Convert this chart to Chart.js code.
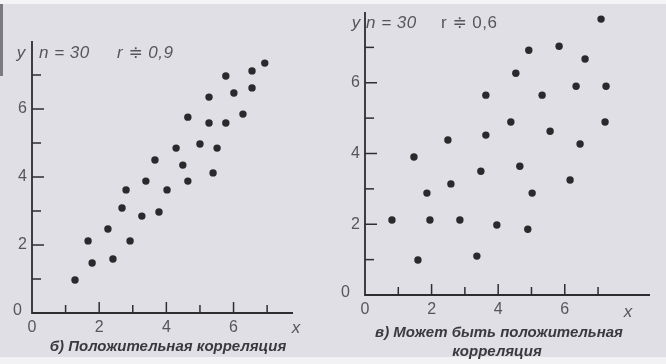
<!DOCTYPE html>
<html>
<head>
<meta charset="utf-8">
<script src="https://cdn.jsdelivr.net/npm/chart.js@4/dist/chart.umd.min.js"></script>
<style>
  html, body { margin: 0; padding: 0; }
  body { width: 666px; height: 364px; background: #dfdfe5; position: relative; overflow: hidden; }
  #topstrip { position: absolute; left: 0; top: 0; width: 666px; height: 4px; background: #f4f4f6; }
  #botstrip { position: absolute; left: 0; top: 357px; width: 666px; height: 7px; background: #f2f2f4; }
  #edge { position: absolute; left: 0; top: 4px; width: 3px; height: 72px; background: #7a7a80; }
  canvas { position: absolute; top: 0; }
  #c1 { left: 0; }
  #c2 { left: 333px; }
</style>
</head>
<body>
<div id="topstrip"></div>
<div id="botstrip"></div>
<div id="edge"></div>
<canvas id="c1" width="333" height="364"></canvas>
<canvas id="c2" width="333" height="364"></canvas>
<script>
// ---- Data ----
const leftX  = [6.93, 6.55, 5.77, 6.55, 6.01, 5.27, 6.28, 4.64, 5.27, 5.77, 5.00, 4.29, 5.51, 3.66, 4.49, 5.39, 3.39, 4.64, 2.80, 4.02, 2.68, 3.27, 3.78, 2.26, 1.67, 2.92, 1.79, 2.41, 1.28];
const leftY  = [7.35, 7.12, 6.97, 6.62, 6.47, 6.35, 5.85, 5.76, 5.59, 5.59, 4.97, 4.85, 4.85, 4.50, 4.35, 4.12, 3.88, 3.88, 3.62, 3.62, 3.09, 2.85, 2.97, 2.47, 2.12, 2.12, 1.47, 1.59, 0.97];
const rightX = [7.09, 4.92, 5.83, 6.61, 4.53, 6.34, 7.24, 3.63, 5.32, 4.38, 7.21, 5.56, 2.49, 3.63, 6.46, 1.47, 3.48, 4.65, 6.16, 2.58, 1.86, 5.02, 0.81, 1.95, 2.85, 3.96, 4.89, 3.36, 1.59];
const rightY = [7.80, 6.92, 7.03, 6.67, 6.27, 5.90, 5.90, 5.65, 5.65, 4.89, 4.89, 4.63, 4.38, 4.52, 4.27, 3.90, 3.50, 3.64, 3.25, 3.14, 2.88, 2.88, 2.12, 2.12, 2.12, 1.98, 1.86, 1.10, 0.99];
const xTickLabels = ['0', '2', '4', '6'];
const yTickLabels = ['0', '2', '4', '6'];
const tickValues = [1, 2, 3, 4, 5, 6, 7];
const leftHeader  = { n: 'n = 30', r: 'r ≑ 0,9' };
const rightHeader = { n: 'n = 30', r: 'r ≑ 0,6' };
const leftCaption  = ['б) Положительная корреляция'];
const rightCaption = ['в) Может быть положительная', 'корреляция'];

function toPoints(xs, ys) { return xs.map((x, i) => ({ x: x, y: ys[i] })); }

const INK = '#2e2e30';
const LABEL = '#56565a';

function axesPlugin(cfg) {
  return {
    id: 'manualAxes',
    beforeDatasetsDraw(chart) {
      const ctx = chart.ctx;
      const xs = chart.scales.x, ys = chart.scales.y;
      const ca = chart.chartArea;
      const x0 = xs.getPixelForValue(0), y0 = ys.getPixelForValue(0);
      ctx.save();
      ctx.strokeStyle = INK;
      ctx.lineWidth = 1.8;
      ctx.beginPath();
      ctx.moveTo(x0, ca.top); ctx.lineTo(x0, y0);
      ctx.lineTo(ca.right, y0);
      ctx.stroke();
      ctx.lineWidth = 1.5;
      tickValues.forEach(v => {
        const big = v % 2 === 0;
        const px = xs.getPixelForValue(v);
        ctx.beginPath(); ctx.moveTo(px, y0); ctx.lineTo(px, y0 - (big ? 11 : 8)); ctx.stroke();
        const py = ys.getPixelForValue(v);
        ctx.beginPath(); ctx.moveTo(x0, py); ctx.lineTo(x0 + (big ? 12 : 9), py); ctx.stroke();
      });
      // tick labels
      ctx.fillStyle = LABEL;
      ctx.font = '16px "Liberation Sans", Arial, sans-serif';
      ctx.textBaseline = 'middle';
      xTickLabels.forEach(t => {
        ctx.textAlign = 'center';
        ctx.fillText(t, xs.getPixelForValue(Number(t)), y0 + cfg.xLabelDy);
      });
      yTickLabels.forEach(t => {
        const v = Number(t);
        ctx.textAlign = 'right';
        if (v === 0) ctx.fillText(t, x0 - cfg.zeroDx, y0 - 2);
        else ctx.fillText(t, x0 - 5, ys.getPixelForValue(v));
      });
      // axis names
      ctx.font = 'italic 17px "Liberation Sans", Arial, sans-serif';
      ctx.textAlign = 'center';
      ctx.fillText('x', cfg.xName[0], cfg.xName[1]);
      ctx.fillText('y', cfg.yName[0], cfg.yName[1]);
      // header
      ctx.textAlign = 'left';
      if ('letterSpacing' in ctx) ctx.letterSpacing = '0.5px';
      ctx.font = (cfg.nItalic ? 'italic ' : '') + '17px "Liberation Sans", "DejaVu Sans", sans-serif';
      ctx.fillText(cfg.header.n, cfg.nPos[0], cfg.nPos[1]);
      ctx.font = (cfg.rItalic ? 'italic ' : '') + '17px "Liberation Sans", "DejaVu Sans", sans-serif';
      ctx.fillText(cfg.header.r, cfg.rPos[0], cfg.rPos[1]);
      if ('letterSpacing' in ctx) ctx.letterSpacing = '0px';
      // caption
      ctx.fillStyle = '#3a3a3e';
      ctx.textAlign = 'center';
      ctx.font = 'italic bold 15px "Liberation Sans", Arial, sans-serif';
      cfg.caption.forEach((line, i) => {
        ctx.fillText(line, cfg.capPos[i][0], cfg.capPos[i][1]);
      });
      ctx.restore();
    }
  };
}

function makeChart(id, xs, ys, xMax, yMax, padding, cfg) {
  return new Chart(document.getElementById(id), {
    type: 'scatter',
    data: { datasets: [{
      data: toPoints(xs, ys),
      pointRadius: 3.7,
      pointBackgroundColor: '#2a2a2c',
      pointBorderWidth: 0,
      clip: false
    }] },
    options: {
      responsive: false,
      animation: false,
      devicePixelRatio: 1,
      layout: { padding: padding },
      plugins: { legend: { display: false }, tooltip: { enabled: false } },
      scales: {
        x: { type: 'linear', min: 0, max: xMax, display: false },
        y: { type: 'linear', min: 0, max: yMax, display: false }
      }
    },
    plugins: [axesPlugin(cfg)]
  });
}

makeChart('c1', leftX, leftY, 7.77, 8, { left: 32, right: 40, top: 41, bottom: 51 }, {
  xLabelDy: 15, zeroDx: 10,
  xName: [296, 328], yName: [21, 53],
  header: leftHeader, nItalic: true, rItalic: true,
  nPos: [39, 53], rPos: [117, 53],
  caption: leftCaption, capPos: [[168, 347]]
});

makeChart('c2', rightX, rightY, 8.56, 8, { left: 32, right: 16, top: 12, bottom: 69 }, {
  xLabelDy: 15, zeroDx: 15,
  xName: [295, 312], yName: [23, 23],
  header: rightHeader, nItalic: true, rItalic: false,
  nPos: [33, 23], rPos: [108, 23],
  caption: rightCaption, capPos: [[166, 333], [164, 352]]
});
</script>
</body>
</html>
